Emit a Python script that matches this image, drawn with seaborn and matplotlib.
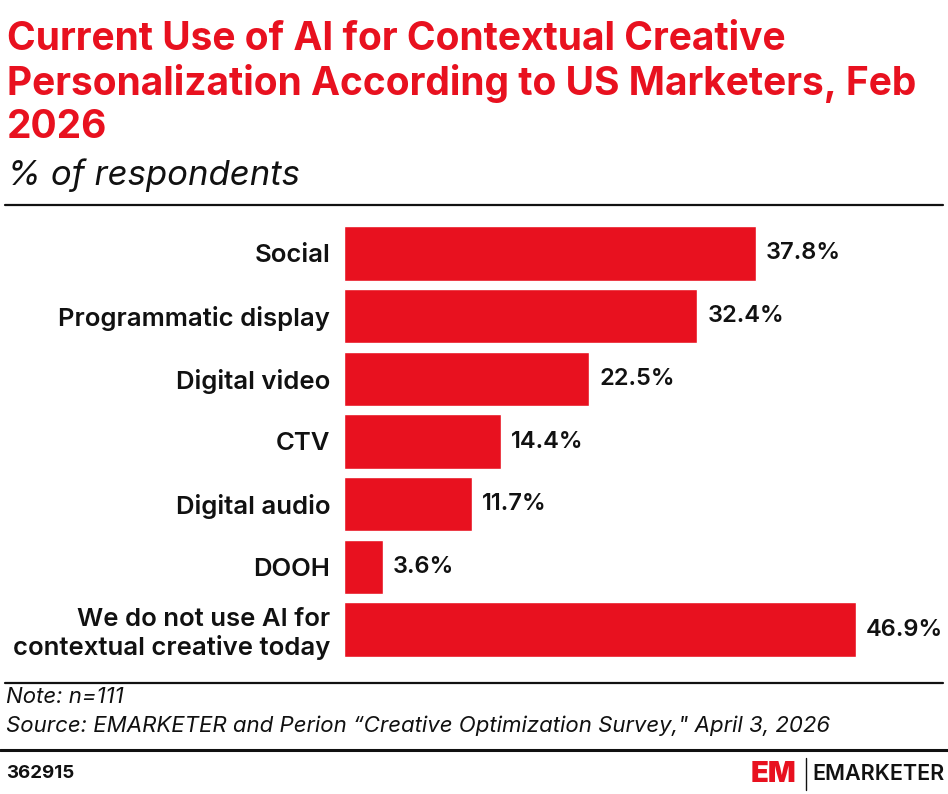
import matplotlib
matplotlib.use("Agg")
import matplotlib.pyplot as plt
import seaborn as sns
import pandas as pd
from matplotlib.lines import Line2D

categories = [
    "Social",
    "Programmatic display",
    "Digital video",
    "CTV",
    "Digital audio",
    "DOOH",
    "We do not use AI for\ncontextual creative today",
]
values = [37.8, 32.4, 22.5, 14.4, 11.7, 3.6, 46.9]

title = "Current Use of AI for Contextual Creative\nPersonalization According to US Marketers, Feb\n2026"
subtitle = "% of respondents"
note = "Note: n=111"
source = "Source: EMARKETER and Perion \u201cCreative Optimization Survey,\" April 3, 2026"
chart_id = "362915"

red = "#E8111F"
W, H = 948, 794

sns.set_theme(style="white")
plt.rcParams["font.family"] = ["Inter", "DejaVu Sans"]

df = pd.DataFrame({"category": categories, "value": values})

fig = plt.figure(figsize=(W / 100, H / 100), dpi=100)


def fx(px):
    return px / W


def fy(py):
    return 1 - py / H


# axes placed in pixel coords: bars start at x=344
ax = fig.add_axes([fx(344), fy(661), fx(600), (661 - 222) / H])
sns.barplot(data=df, x="value", y="category", color=red, width=0.87,
            saturation=1, ax=ax)
ax.set_xlim(0, 55)
ax.set_ylim(len(categories) - 0.5, -0.5)
ax.set_xlabel("")
ax.set_ylabel("")
ax.set_xticks([])
ax.tick_params(axis="y", length=0, pad=10)
for lab in ax.get_yticklabels():
    lab.set_fontsize(18.5)
    lab.set_fontweight("semibold")
    lab.set_color("#111111")
    lab.set_horizontalalignment("right")
    lab.set_multialignment("right")
sns.despine(ax=ax, left=True, bottom=True)

for i, v in enumerate(values):
    ax.text(v + 0.9, i, f"{v}%", va="center", ha="left", fontsize=17,
            fontweight="semibold", color="#111111")

# titles
fig.text(fx(7), fy(21), title, ha="left", va="top", fontsize=28,
         fontweight="bold", color=red, linespacing=1.2)
fig.text(fx(7), fy(158), subtitle, ha="left", va="top", fontsize=25,
         style="italic", color="#111111")

# rules
for y in (205, 683):
    fig.add_artist(Line2D([fx(5), fx(943)], [fy(y), fy(y)], color="#111111", lw=1.6))
fig.add_artist(Line2D([fx(0), fx(948)], [fy(750), fy(750)], color="#111111", lw=2.2))

fig.text(fx(6), fy(687), note, ha="left", va="top", fontsize=16,
         style="italic", color="#111111")
fig.text(fx(6), fy(716), source, ha="left", va="top", fontsize=16,
         style="italic", color="#111111")
fig.text(fx(6), fy(773), chart_id, ha="left", va="center", fontsize=13.5,
         fontweight="bold", color="#111111")

# logo
fig.text(fx(751), fy(774), "EM", ha="left", va="center", fontsize=21,
         fontweight="black", color=red)
fig.add_artist(Line2D([fx(806), fx(806)], [fy(758), fy(790)], color="#111111", lw=1))
fig.text(fx(812), fy(774), "EMARKETER", ha="left", va="center", fontsize=15.5,
         fontweight="semibold", color="#111111")

fig.savefig("out.png", dpi=100)
